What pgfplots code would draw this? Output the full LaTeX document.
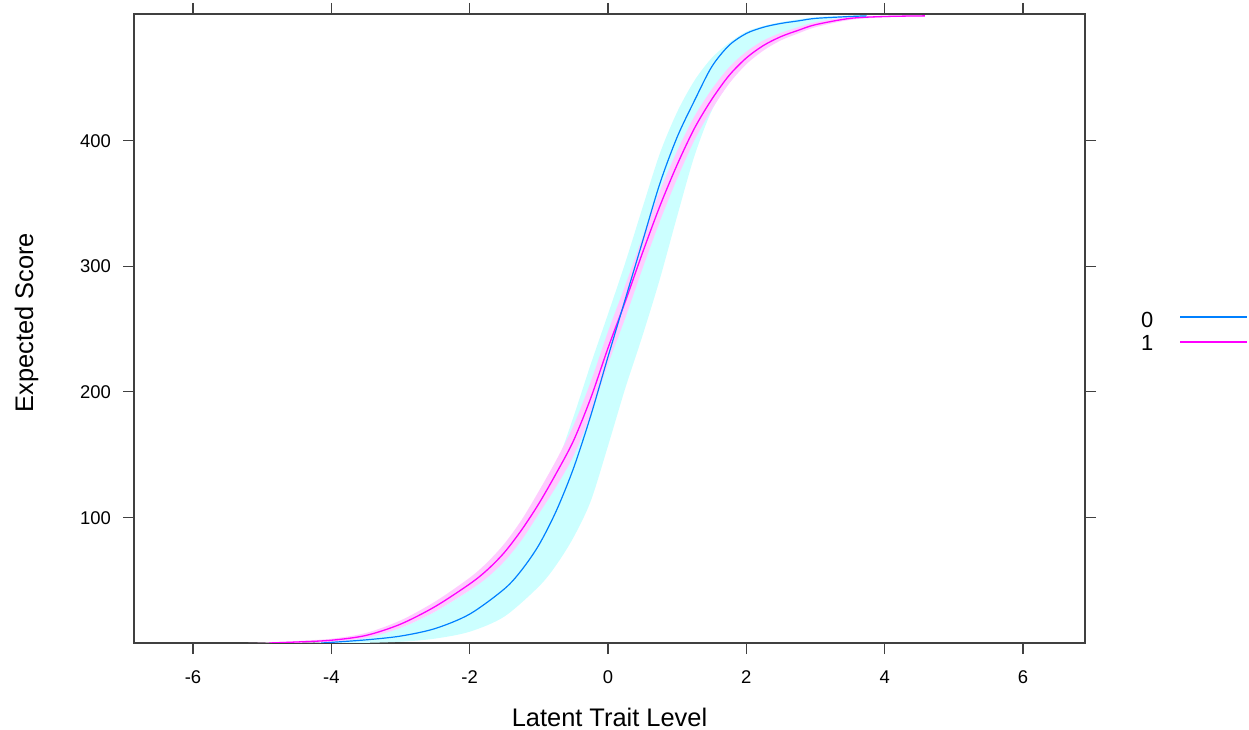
\documentclass[border=0pt]{standalone}
\usepackage{fontspec}
\setmainfont{Liberation Sans}
\usepackage{pgfplots}
\pgfplotsset{compat=1.18}
\usepgfplotslibrary{fillbetween}
\definecolor{blueline}{HTML}{0080FF}
\definecolor{magline}{HTML}{FF00FF}
\definecolor{cyanband}{HTML}{CCFFFF}
\definecolor{pinkband}{HTML}{FFCCFF}
\begin{document}
\begin{tikzpicture}
\begin{axis}[
  at={(134bp,87bp)}, anchor=south west,
  scale only axis, width=951bp, height=629bp,
  xmin=-6.853, xmax=6.896, ymin=0, ymax=501,
  xtick={-6,-4,-2,0,2,4,6}, xticklabels={-6,-4,-2,0,2,4,6},
  ytick={100,200,300,400}, yticklabels={100,200,300,400},
  tick align=outside, major tick length=11bp,
  axis line style={black!75, line width=1.1bp},
  every tick/.style={black!75, line width=1.1bp},
  xticklabel style={font=\fontsize{18.5}{22}\selectfont, inner sep=0pt, text height=13.3bp, text depth=0pt, yshift=-16bp},
  yticklabel style={font=\fontsize{18.5}{22}\selectfont, inner sep=0pt, text height=13.3bp, text depth=0pt, xshift=-12bp},
  xlabel={Latent Trait Level}, ylabel={Expected Score},
  xlabel style={at={(axis description cs:0.5,0)}, anchor=base, inner sep=0pt, yshift=-83bp, font=\fontsize{25.5}{30}\selectfont},
  ylabel style={at={(axis description cs:-0.1062,0.509)}, anchor=base, inner sep=0pt, font=\fontsize{25.5}{30}\selectfont},
]
% band group 0
\addplot[draw=none, forget plot, smooth, name path=cu] coordinates {
(-4.4,0) (-4.0,1.2) (-3.5,4.5) (-3.0,12) (-2.5,25) (-2.0,42) (-1.75,53) (-1.5,67) (-1.25,86) (-1.0,108) (-0.75,141) (-0.5,180) (-0.25,222) (0.0,262) (0.25,303) (0.5,347) (0.75,390) (1.0,423) (1.25,448) (1.5,466) (1.75,478) (2.0,487) (2.25,491.5) (2.5,494.5) (3.0,498.5) (3.5,499.7) (3.74,500)};
\addplot[draw=none, forget plot, smooth, name path=cl] coordinates {
(-3.6,0) (-3.0,1) (-2.5,3.5) (-2.0,9) (-1.5,21) (-1.0,45) (-0.75,62) (-0.5,84) (-0.25,113) (0.0,157) (0.25,203) (0.5,245) (0.75,290) (1.0,340) (1.25,388) (1.5,424) (1.75,446) (2.0,462) (2.25,473) (2.5,481) (2.75,487) (3.0,491.5) (3.5,496.8) (3.74,499)};
\addplot[cyanband, draw=none, forget plot] fill between[of=cu and cl];
% band group 1
\addplot[draw=none, forget plot, smooth, name path=pu] coordinates {
(-5.2,0) (-4.9,0.5) (-4.5,1.6) (-4.0,3.4) (-3.5,8) (-3.0,18) (-2.5,33) (-2.0,52) (-1.75,64) (-1.5,79) (-1.25,98) (-1.0,121) (-0.75,145.5) (-0.5,173) (-0.25,208) (0.0,248) (0.25,285) (0.5,323.5) (0.75,360) (1.0,392) (1.25,419.5) (1.5,441) (1.75,458.5) (2.0,471) (2.25,480) (2.5,486) (2.75,490.5) (3.0,494.5) (3.5,498.7) (4.0,499.7) (4.58,500)};
\addplot[draw=none, forget plot, smooth, name path=pl] coordinates {
(-4.7,0) (-4.5,0.1) (-4.0,1.0) (-3.5,4) (-3.0,12) (-2.5,25) (-2.0,42) (-1.75,52) (-1.5,65) (-1.25,82) (-1.0,103) (-0.75,124.5) (-0.5,149) (-0.25,182) (0.0,222) (0.25,259) (0.5,298.5) (0.75,336) (1.0,370) (1.25,400.5) (1.5,425) (1.75,445.5) (2.0,461) (2.25,472) (2.5,480) (2.75,485.5) (3.0,490.5) (3.5,496.3) (4.0,498.3) (4.58,499)};
\addplot[pinkband, draw=none, forget plot] fill between[of=pu and pl];
% lines
\addplot[magline, line width=1.3bp, smooth, forget plot] coordinates {
(-4.9,0) (-4.5,0.8) (-4.0,2.2) (-3.5,6) (-3.0,15) (-2.5,29) (-2.0,47) (-1.75,58) (-1.5,72) (-1.25,90) (-1.0,111) (-0.75,135) (-0.5,161) (-0.25,195) (0.0,235) (0.25,272) (0.5,311) (0.75,348) (1.0,381) (1.25,410) (1.5,433) (1.75,452) (2.0,466) (2.25,476) (2.5,483) (2.75,488) (3.0,492.5) (3.5,497.5) (4.0,499) (4.58,499.5)};
\addplot[blueline, line width=1.2bp, smooth, forget plot] coordinates {
(-4.15,0) (-4.0,0.5) (-3.5,2.5) (-3.0,5.5) (-2.5,11.5) (-2.0,23) (-1.5,43) (-1.25,58) (-1.0,78) (-0.75,105) (-0.5,139) (-0.25,181) (0.0,228) (0.25,274) (0.5,320) (0.75,366) (1.0,403) (1.25,432) (1.5,459) (1.75,476) (2.0,485.5) (2.25,490.5) (2.5,493.5) (2.75,495.5) (3.0,497.5) (3.5,499) (3.74,499.5)};
\end{axis}
% legend (key)
\node[anchor=base west, inner sep=0pt, font=\fontsize{22}{26}\selectfont] at (1141bp,402bp) {0};
\node[anchor=base west, inner sep=0pt, font=\fontsize{22}{26}\selectfont] at (1141bp,379bp) {1};
\draw[blueline, line width=1.2bp] (1180bp,413bp) -- (1247bp,413bp);
\draw[magline, line width=1.3bp] (1180bp,388bp) -- (1247bp,388bp);
\path (0bp,0bp) rectangle (1249bp,730bp);
\end{tikzpicture}
\end{document}
